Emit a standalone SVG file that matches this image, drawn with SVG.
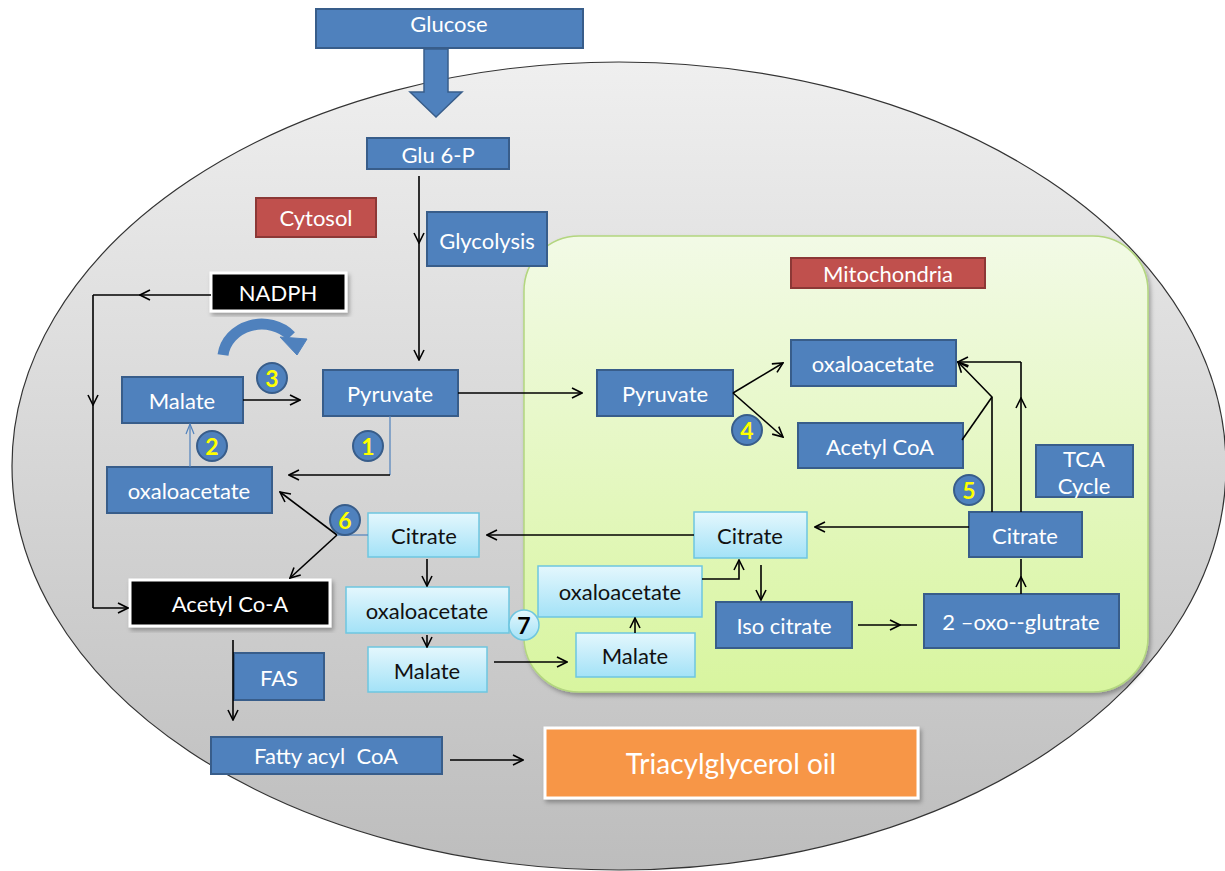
<svg xmlns="http://www.w3.org/2000/svg" width="1225" height="871" viewBox="0 0 1225 871">
<style>
.b{fill:#4f81bd;stroke:#385d8a;stroke-width:2}
.l{fill:url(#lg);stroke:#6ec6e0;stroke-width:1.5}
.r{fill:#c0504d;stroke:#8c3836;stroke-width:2}
.k{fill:#000;stroke:#fff;stroke-width:3}
.t{font-family:Lato,"Liberation Sans",sans-serif;font-size:22px;text-anchor:middle;dominant-baseline:central;fill:#fff}
.d{fill:#111}
.c{fill:none;stroke:#000;stroke-width:1.6}
.thin{fill:none;stroke:#4f81bd;stroke-width:1.2}
.bd{fill:#4f81bd;stroke:#385d8a;stroke-width:2}
.n{font-family:Lato,"Liberation Sans",sans-serif;font-size:23px;font-weight:bold;text-anchor:middle;dominant-baseline:central;fill:#ffff00}
</style>
<defs>
<linearGradient id="eg" x1="0" y1="0" x2="0" y2="1"><stop offset="0" stop-color="#efefef"/><stop offset="1" stop-color="#bdbdbd"/></linearGradient>
<linearGradient id="mg" x1="0" y1="0" x2="0" y2="1"><stop offset="0" stop-color="#f2fae6"/><stop offset="1" stop-color="#d8f59f"/></linearGradient>
<linearGradient id="lg" x1="0" y1="0" x2="0" y2="1"><stop offset="0" stop-color="#e4f7fd"/><stop offset="1" stop-color="#a3e2f7"/></linearGradient>
<marker id="a" viewBox="0 0 12 12" refX="11" refY="6" markerWidth="12" markerHeight="12" markerUnits="userSpaceOnUse" orient="auto"><path d="M1,1 L11,6 L1,11" fill="none" stroke="#000" stroke-width="1.6"/></marker>
<marker id="ab" viewBox="0 0 12 12" refX="11" refY="6" markerWidth="12" markerHeight="12" markerUnits="userSpaceOnUse" orient="auto"><path d="M1,2 L11,6 L1,10" fill="none" stroke="#4f81bd" stroke-width="1.2"/></marker>
<filter id="sh" x="-5%" y="-5%" width="115%" height="120%"><feDropShadow dx="2" dy="3" stdDeviation="2" flood-color="#000" flood-opacity="0.3"/></filter>
</defs>

<g id="cell"><ellipse cx="619" cy="466" rx="607" ry="404" fill="url(#eg)" stroke="#333" stroke-width="1.2"/></g>
<g id="mitochondria"><rect x="524" y="236" width="624" height="456" rx="55" fill="url(#mg)" stroke="#b3d67f" stroke-width="1.5" filter="url(#sh)"/></g>

<g id="glucose"><rect class="b" x="316" y="9" width="267" height="39"/><text class="t" x="449" y="23">Glucose</text></g>
<g id="bigarrow"><path d="M424,49 L448,49 L448,92 L462,92 L436,117 L410,92 L424,92 Z" fill="#4f81bd" stroke="#385d8a" stroke-width="1.5"/></g>
<g id="glu6p"><rect class="b" x="367" y="138" width="142" height="31"/><text class="t" x="438" y="154">Glu 6-P</text></g>
<g id="cytosol"><rect class="r" x="256" y="198" width="120" height="39"/><text class="t" x="316" y="217">Cytosol</text></g>
<g id="glycolysis"><rect class="b" x="427" y="212" width="120" height="54"/><text class="t" x="487" y="240">Glycolysis</text></g>
<g id="nadph"><rect class="k" x="211" y="273" width="135" height="38" filter="url(#sh)"/><text class="t" x="278" y="292">NADPH</text></g>
<g id="curved"><path d="M223,355 A39,35 0 0 1 291,336" fill="none" stroke="#4f81bd" stroke-width="11"/><path d="M280,337 L307,339 L297,355 Z" fill="#4f81bd" stroke="#4f81bd" stroke-width="1"/></g>
<g id="malate1"><rect class="b" x="122" y="377" width="121" height="46"/><text class="t" x="182" y="400">Malate</text></g>
<g id="pyruvate1"><rect class="b" x="323" y="370" width="135" height="46"/><text class="t" x="390" y="393">Pyruvate</text></g>
<g id="oaa1"><rect class="b" x="107" y="467" width="165" height="46"/><text class="t" x="189" y="490">oxaloacetate</text></g>
<g id="citrate1"><rect class="l" x="368" y="513" width="111" height="44"/><text class="t d" x="424" y="535">Citrate</text></g>
<g id="acetylcoa1"><rect class="k" x="130" y="580" width="200" height="46" filter="url(#sh)"/><text class="t" x="230" y="603">Acetyl Co-A</text></g>
<g id="oaa2"><rect class="l" x="346" y="587" width="163" height="46"/><text class="t d" x="427" y="610">oxaloacetate</text></g>
<g id="malate2"><rect class="l" x="368" y="647" width="119" height="45"/><text class="t d" x="427" y="670">Malate</text></g>
<g id="fas"><rect class="b" x="234" y="653" width="90" height="47"/><text class="t" x="279" y="677">FAS</text></g>
<g id="fattyacyl"><rect class="b" x="211" y="737" width="231" height="37"/><text class="t" x="326" y="755" xml:space="preserve">Fatty acyl  CoA</text></g>
<g id="tag"><rect x="545" y="728" width="373" height="70" fill="#f79646" stroke="#fff" stroke-width="3" filter="url(#sh)"/><text class="t" x="731" y="763" style="font-size:28px">Triacylglycerol oil</text></g>

<g id="mitolabel"><rect class="r" x="791" y="258" width="194" height="30"/><text class="t" x="888" y="273">Mitochondria</text></g>
<g id="pyruvate2"><rect class="b" x="597" y="370" width="136" height="46"/><text class="t" x="665" y="393">Pyruvate</text></g>
<g id="oaa3"><rect class="b" x="791" y="340" width="165" height="46"/><text class="t" x="873" y="363">oxaloacetate</text></g>
<g id="acetylcoa2"><rect class="b" x="798" y="423" width="165" height="45"/><text class="t" x="880" y="446">Acetyl CoA</text></g>
<g id="tca"><rect class="b" x="1036" y="445" width="97" height="52"/><text class="t" x="1084" y="458">TCA</text><text class="t" x="1084" y="485">Cycle</text></g>
<g id="citrate3"><rect class="b" x="969" y="512" width="113" height="45"/><text class="t" x="1025" y="535">Citrate</text></g>
<g id="citrate2"><rect class="l" x="694" y="512" width="113" height="46"/><text class="t d" x="750" y="535">Citrate</text></g>
<g id="oaa4"><rect class="l" x="538" y="566" width="164" height="51"/><text class="t d" x="620" y="591">oxaloacetate</text></g>
<g id="malate3"><rect class="l" x="576" y="633" width="119" height="44"/><text class="t d" x="635" y="655">Malate</text></g>
<g id="isocitrate"><rect class="b" x="716" y="602" width="136" height="46"/><text class="t" x="784" y="625">Iso citrate</text></g>
<g id="oxoglutarate"><rect class="b" x="924" y="594" width="195" height="54"/><text class="t" x="1021" y="621">2 –oxo--glutrate</text></g>

<g id="connectors">
<path class="c" d="M419,176 L419,243 L419,360" marker-mid="url(#a)" marker-end="url(#a)"/>
<path class="c" d="M211,295 L140,295 L93,295" marker-mid="url(#a)"/>
<path class="c" d="M93,295 L93,405 L93,608" marker-mid="url(#a)"/>
<path class="c" d="M93,608 L128,608" marker-end="url(#a)"/>
<path class="c" d="M243,400 L300,400" marker-end="url(#a)"/>
<path class="thin" d="M190,467 L190,424" marker-end="url(#ab)"/>
<path class="thin" d="M390,416 L390,475"/>
<path class="c" d="M390,475 L289,475" marker-end="url(#a)"/>
<path class="c" d="M337,535 L280,492" marker-end="url(#a)"/>
<path class="c" d="M337,535 L290,578" marker-end="url(#a)"/>
<path class="thin" d="M337,535 L368,535"/>
<path class="c" d="M427,559 L427,586" marker-end="url(#a)"/>
<path class="c" d="M427,635 L427,647" marker-end="url(#a)"/>
<path class="c" d="M494,662 L567,662" marker-end="url(#a)"/>
<path class="c" d="M233,640 L233,720" marker-end="url(#a)"/>
<path class="c" d="M450,760 L523,760" marker-end="url(#a)"/>
<path class="c" d="M458,393 L582,393" marker-end="url(#a)"/>
<path class="c" d="M733,393 L783,363" marker-end="url(#a)"/>
<path class="c" d="M733,393 L783,437" marker-end="url(#a)"/>
<path class="c" d="M1021,512 L1021,398 L1021,362" marker-mid="url(#a)"/>
<path class="c" d="M1021,362 L958,362" marker-end="url(#a)"/>
<path class="c" d="M992,512 L992,397 L958,362" marker-end="url(#a)"/>
<path class="c" d="M962,440 L992,397"/>
<path class="c" d="M969,527 L815,527" marker-end="url(#a)"/>
<path class="c" d="M694,535 L487,535" marker-end="url(#a)"/>
<path class="c" d="M702,579 L739,579 L739,560" marker-end="url(#a)"/>
<path class="c" d="M761,565 L761,600" marker-end="url(#a)"/>
<path class="c" d="M858,625 L900,625 L917,625" marker-mid="url(#a)"/>
<path class="c" d="M1021,594 L1021,577 L1021,559" marker-mid="url(#a)"/>
<path class="c" d="M635,633 L635,618" marker-end="url(#a)"/>
</g>

<g id="badge1"><circle class="bd" cx="368" cy="446" r="15"/><text class="n" x="368" y="446">1</text></g>
<g id="badge2"><circle class="bd" cx="212" cy="446" r="15"/><text class="n" x="212" y="446">2</text></g>
<g id="badge3"><circle class="bd" cx="272" cy="378" r="15"/><text class="n" x="272" y="378">3</text></g>
<g id="badge4"><circle class="bd" cx="747" cy="430" r="15"/><text class="n" x="747" y="430">4</text></g>
<g id="badge5"><circle class="bd" cx="969" cy="490" r="15"/><text class="n" x="969" y="490">5</text></g>
<g id="badge6"><circle class="bd" cx="345" cy="520" r="15"/><text class="n" x="345" y="520">6</text></g>
<g id="badge7"><circle cx="524" cy="625" r="15" fill="url(#lg)" stroke="#6ec6e0" stroke-width="1.5"/><text class="n" x="524" y="625" style="fill:#000">7</text></g>
</svg>
